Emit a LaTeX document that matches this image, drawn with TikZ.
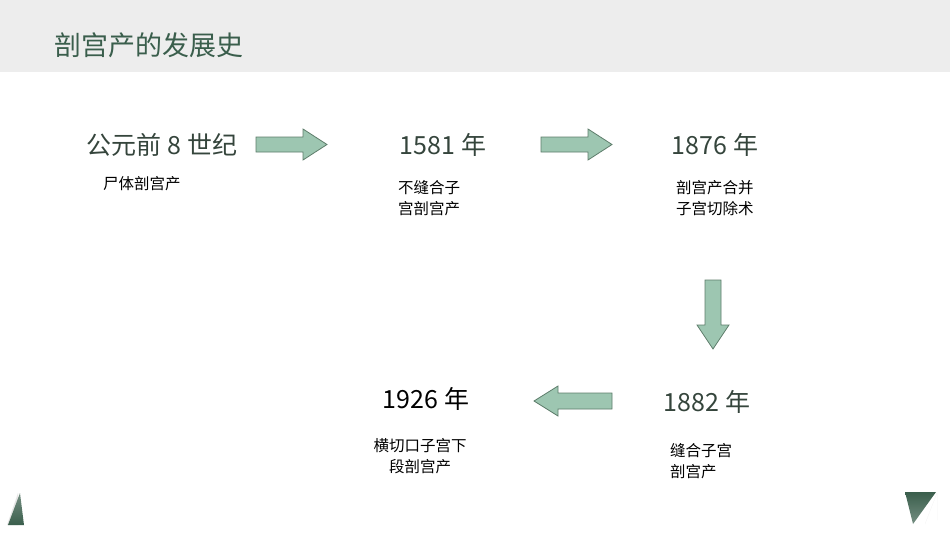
\documentclass[tikz,border=0pt]{standalone}
\usepackage{fontspec}
\setmainfont{Noto Sans CJK SC}
\begin{document}
\begin{tikzpicture}[x=1pt,y=-1pt,
  big/.style={font=\fontsize{25}{28}\selectfont,text=txt,inner sep=0},
  small/.style={font=\fontsize{15.5}{21}\selectfont,align=left,inner sep=0,anchor=north west},
  arr/.style={fill=arrf,draw=arrd,line width=0.8pt}]
\definecolor{txt}{HTML}{35453C}
\definecolor{arrf}{HTML}{9DC6B1}
\definecolor{arrd}{HTML}{5E7D6B}
\definecolor{dg}{HTML}{3A5E4C}
\useasboundingbox (0,0) rectangle (950,535);
\fill[white] (0,0) rectangle (950,535);
\fill[black!7] (0,0) rectangle (950,72);
\node[anchor=west,font=\fontsize{27}{30}\selectfont,text=dg,inner sep=0] (title) at (54,45) {剖宫产的发展史};
% arrows
\draw[arr] (256,137)--(303,137)--(303,129)--(327,144.5)--(303,160)--(303,152)--(256,152)--cycle;
\draw[arr] (541,137)--(588,137)--(588,129)--(612,144.5)--(588,160)--(588,152)--(541,152)--cycle;
\draw[arr] (705,280)--(721,280)--(721,325)--(729,325)--(713,349)--(697,325)--(705,325)--cycle;
\draw[arr] (612,393)--(558,393)--(558,386)--(534,401)--(558,416)--(558,409)--(612,409)--cycle;
% texts
\node[big] (t1) at (162,145) {公元前 8 世纪};
\node[big] (t2) at (443,145) {1581 年};
\node[big] (t3) at (715,145) {1876 年};
\node[big] (t4) at (707,402) {1882 年};
\node[big,text=black] (t5) at (426,399) {1926 年};
\node[small] (s1) at (103,176) {尸体剖宫产};
\node[small] (s2) at (398,180) {不缝合子\\宫剖宫产};
\node[small] (s3) at (676,180) {剖宫产合并\\子宫切除术};
\node[small] (s4) at (670,443) {缝合子宫\\剖宫产};
\node[small,align=center,anchor=north] (s5) at (420,438) {横切口子宫下\\段剖宫产};
% corner triangles
\fill[black!10] (7,525)--(18,493)--(18,525)--cycle;
\shade[top color=dg!70,bottom color=dg] (8,525)--(20,493)--(24,525)--cycle;
\fill[black!10] (937,493)--(925,524)--(937,493)--(937,520)--cycle;
\shade[top color=dg,bottom color=dg!70] (905,492)--(936,492)--(913,524)--cycle;
\end{tikzpicture}
\end{document}
